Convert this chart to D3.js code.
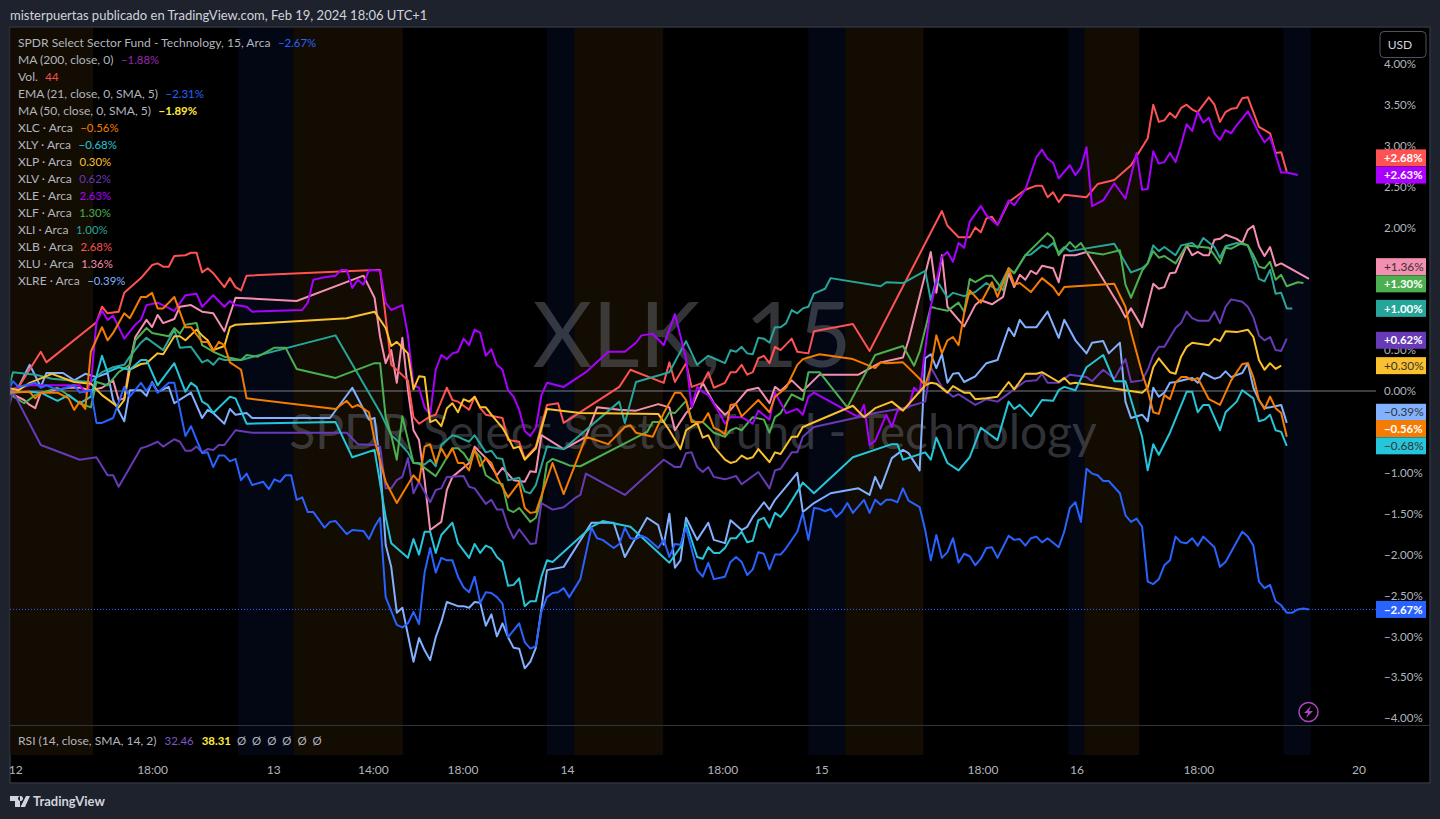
<!DOCTYPE html>
<html><head><meta charset="utf-8">
<style>html,body{margin:0;padding:0;background:#1e222d;overflow:hidden}svg{display:block}text{font-family:Lato,"Noto Sans",sans-serif}</style>
<script src="https://cdn.jsdelivr.net/npm/d3@7"></script></head><body><svg id="c" width="1440" height="819"></svg>
<script>
// [bar index, percent change]
const XLK=[[-1,-.02],[0,.12],[1,.05],[4,.10],[5,.04],[6,.07],[8,.01],[11,.07],[12,-.02],[14,.01],[15,-.39],[16,-.39],[18,-.33],[20,.05],[21,-.07],[23,.10],[24,0],[25,.10],[26,-.02],[28,.10],[29,.10],[31,-.55],[32,-.43],[34,-.76],[35,-.75],[36,-.93],[37,-.79],[38,-.79],[39,-.86],[40,-.83],[41,-1.09],[42,-1.01],[43,-1.15],[45,-1.11],[46,-1.20],[47,-1.08],[48,-1.11],[49,-1.03],[50,-1.03],[51,-1.33],[52,-1.30],[53,-1.48],[54,-1.48],[56,-1.67],[57,-1.60],[58,-1.59],[60,-1.75],[61,-1.70],[63,-1.71],[64,-1.81],[65,-1.66],[66,-1.55],[67,-2.52],[69,-2.86],[70,-2.89],[71,-2.84],[72,-2.70],[73,-2.85],[74,-2.22],[75,-1.92],[76,-2.22],[77,-2.04],[78,-2.07],[79,-2.07],[80,-2.27],[81,-2.40],[82,-2.46],[83,-2.27],[84,-2.59],[85,-2.46],[86,-2.47],[87,-2.52],[88,-2.60],[89,-3.01],[91,-2.84],[92,-3.07],[93,-3.15],[94,-3.12],[95,-2.70],[96,-2.52],[97,-2.47],[98,-2.46],[99,-2.41],[100,-2.52],[102,-2.30],[104,-1.67],[105,-1.80],[106,-1.82],[108,-1.92],[109,-1.87],[110,-1.67],[111,-1.80],[112,-1.81],[113,-1.77],[114,-1.80],[116,-1.92],[117,-1.82],[118,-2.03],[119,-1.87],[120,-1.88],[121,-1.67],[123,-2.19],[124,-2.27],[125,-2.10],[126,-2.30],[128,-2.27],[129,-2.09],[130,-2.03],[131,-2.09],[132,-2.25],[133,-2.18],[134,-1.97],[135,-1.99],[136,-2.18],[137,-2.00],[138,-2.00],[139,-1.92],[141,-1.72],[142,-1.49],[143,-1.82],[144,-1.43],[145,-1.44],[146,-1.47],[147,-1.44],[148,-1.54],[149,-1.48],[150,-1.37],[151,-1.49],[153,-1.33],[154,-1.49],[155,-1.33],[156,-1.39],[157,-1.33],[158,-1.33],[159,-1.36],[160,-1.19],[161,-1.34],[163,-1.42],[164,-1.70],[165,-2.07],[166,-1.76],[167,-2.04],[168,-1.97],[169,-1.80],[170,-2.10],[171,-1.99],[172,-2.02],[173,-2.13],[174,-2.05],[175,-1.92],[176,-1.91],[177,-2.04],[179,-1.77],[180,-1.82],[181,-1.81],[182,-1.89],[183,-1.80],[184,-1.78],[185,-1.85],[186,-1.80],[188,-1.91],[189,-1.72],[190,-1.43],[191,-1.36],[192,-1.60],[193,-.95],[194,-1.01],[195,-1.03],[196,-1.10],[197,-1.10],[199,-1.25],[200,-1.52],[201,-1.60],[202,-1.56],[203,-1.66],[204,-2.33],[205,-2.36],[206,-2.30],[207,-2.13],[208,-2.07],[209,-1.78],[210,-1.85],[211,-1.86],[212,-1.80],[213,-1.89],[214,-1.78],[216,-1.91],[217,-2.15],[218,-2.09],[221,-1.72],[222,-1.78],[223,-1.89],[224,-2.33],[225,-2.41],[226,-2.37],[227,-2.57],[228,-2.62],[229,-2.71],[230,-2.71],[231,-2.67],[232,-2.66],[233,-2.67]];
const XLC=[[-1,-.02],[3,-.01],[4,-.09],[5,-.02],[8,-.02],[10,-.09],[11,-.23],[12,-.13],[13,-.22],[14,.48],[16,.78],[17,.62],[18,.71],[20,.95],[21,.89],[23,1.15],[24,1.15],[25,1.20],[26,1.01],[27,1.01],[29,1.15],[31,.78],[32,.78],[34,.60],[35,.60],[36,.49],[37,.60],[38,.56],[39,.35],[41,.26],[42,-.09],[58,-.22],[60,-.12],[61,-.20],[62,-.17],[64,-.26],[65,-.60],[67,-1.11],[69,-1.37],[72,-1.03],[73,-1.11],[74,-.68],[75,-.65],[76,-.88],[77,-.70],[78,-.82],[79,-.70],[80,-.88],[81,-.88],[82,-.97],[83,-.71],[84,-.92],[85,-.82],[86,-.88],[87,-1.05],[89,-1.30],[91,-1.12],[92,-1.43],[93,-1.49],[94,-1.48],[97,-.88],[99,-1.26],[103,-.56],[107,-.65],[110,-.44],[111,-.42],[112,-.51],[115,-.56],[117,-.27],[119,-.02],[120,-.02],[121,-.11],[122,-.38],[124,-.38],[125,-.27],[126,-.45],[127,-.48],[128,-.53],[129,-.17],[130,-.16],[131,-.31],[134,-.11],[136,-.26],[137,-.07],[139,.04],[141,.32],[142,.39],[145,.45],[151,.39],[155,.28],[156,.35],[157,.34],[160,.35],[163,.15],[164,.07],[165,.29],[166,.68],[167,.46],[168,.62],[169,.66],[170,.56],[171,.95],[172,1.23],[174,1.08],[176,1.33],[177,1.15],[179,1.50],[180,1.30],[181,1.32],[183,1.21],[185,1.38],[187,1.27],[188,1.17],[189,1.27],[198,1.31],[200,1.03],[201,.72],[203,.22],[204,.01],[205,-.26],[206,-.28],[207,-.05],[208,-.10],[209,.10],[210,.17],[211,.17],[212,.13],[213,.16],[215,-.10],[217,-.17],[219,.13],[221,.33],[222,.34],[223,.17],[224,-.11],[225,-.22],[226,-.07],[227,-.21],[228,-.27],[229,-.56]];
const XLY=[[-1,-.02],[3,-.01],[5,-.02],[8,-.12],[10,-.05],[12,-.15],[14,-.07],[16,.43],[17,.23],[19,.29],[21,.26],[23,.38],[24,.38],[26,.07],[29,.34],[31,-.01],[32,.10],[33,.05],[34,-.13],[35,-.17],[36,-.27],[39,-.07],[40,-.09],[42,-.40],[58,-.38],[61,-.81],[65,-.72],[67,-1.54],[68,-1.86],[71,-2.04],[72,-1.81],[73,-2.00],[74,-1.72],[75,-1.72],[76,-1.98],[77,-1.76],[79,-1.61],[80,-1.86],[82,-2.04],[83,-1.87],[84,-1.98],[85,-1.89],[86,-1.92],[87,-2.03],[88,-2.09],[89,-2.38],[90,-2.37],[91,-2.29],[92,-2.63],[93,-2.57],[94,-2.57],[95,-2.27],[96,-2.07],[97,-2.09],[104,-1.66],[106,-1.59],[111,-1.66],[118,-2.10],[120,-1.91],[121,-1.61],[123,-2.03],[124,-2.05],[125,-1.91],[126,-1.98],[127,-1.98],[128,-1.92],[129,-1.80],[130,-1.80],[131,-1.72],[132,-1.85],[133,-1.83],[134,-1.58],[135,-1.55],[136,-1.67],[137,-1.49],[138,-1.54],[139,-1.45],[141,-1.23],[142,-1.12],[144,-1.25],[151,-.81],[158,-.65],[159,-.65],[160,-.84],[164,-.75],[165,-.84],[166,-.57],[168,-.88],[170,-.97],[172,-.81],[174,-.45],[177,-.60],[179,-.13],[180,-.22],[181,-.17],[183,-.31],[185,-.11],[187,-.12],[188,.01],[189,.05],[191,.01],[193,.29],[196,.44],[198,.12],[200,.12],[203,-.56],[204,-.97],[205,-.65],[206,-.78],[208,-.51],[211,-.01],[212,-.01],[213,-.26],[214,-.17],[215,-.17],[217,-.48],[218,-.26],[220,-.13],[221,.01],[223,-.09],[224,-.37],[225,-.35],[226,-.29],[227,-.48],[228,-.50],[229,-.67]];
const XLP=[[-1,.04],[1,.01],[3,.10],[7,.21],[11,.11],[14,.09],[16,-.05],[19,-.20],[20,-.11],[21,.26],[23,.33],[24,.34],[26,.46],[27,.45],[29,.67],[30,.67],[31,.62],[33,.75],[34,.68],[35,.62],[36,.50],[38,.55],[39,.78],[40,.81],[60,.89],[65,.97],[67,.77],[68,.55],[69,.60],[71,.46],[72,.02],[73,.18],[74,.17],[75,-.38],[76,-.35],[77,-.43],[78,-.21],[79,-.15],[80,-.26],[81,-.10],[82,-.13],[83,-.07],[84,-.20],[85,-.20],[86,-.29],[88,-.45],[89,-.57],[90,-.70],[91,-.68],[92,-.84],[94,-.70],[96,-.22],[102,-.27],[116,-.28],[118,-.48],[120,-.71],[121,-.48],[123,-.39],[124,-.57],[125,-.54],[126,-.68],[128,-.84],[129,-.88],[130,-.86],[131,-.79],[132,-.83],[133,-.81],[134,-.71],[136,-.87],[137,-.75],[138,-.77],[140,-.56],[141,-.56],[142,-.44],[151,-.18],[153,-.32],[155,-.21],[158,-.13],[160,-.24],[164,.07],[165,.10],[166,.09],[168,-.02],[169,.06],[171,-.02],[172,-.02],[173,-.10],[175,-.09],[177,-.07],[179,.11],[180,.02],[182,.21],[184,.21],[185,.23],[188,.11],[189,.16],[190,.09],[191,.10],[200,.01],[203,-.02],[204,.04],[205,.29],[206,.40],[208,.23],[209,.21],[210,.42],[211,.54],[212,.59],[215,.56],[216,.64],[217,.61],[218,.73],[220,.72],[222,.75],[223,.66],[224,.38],[225,.26],[226,.34],[227,.27],[228,.31]];
const XLV=[[-1,-.27],[0,-.01],[5,-.66],[12,-.84],[15,-.81],[17,-1.03],[18,-1.03],[19,-1.17],[23,-.70],[24,-.68],[26,-.62],[27,-.68],[29,-.59],[30,-.62],[31,-.73],[32,-.73],[33,-.68],[34,-.75],[35,-.71],[36,-.72],[37,-.66],[38,-.66],[40,-.48],[43,-.51],[60,-.51],[62,-.65],[65,-.66],[66,-.68],[67,-1.19],[68,-1.19],[69,-1.09],[70,-1.05],[71,-.82],[72,-1.25],[73,-1.11],[75,-1.36],[76,-1.21],[77,-1.19],[78,-1.05],[81,-1.04],[82,-1.17],[83,-1.19],[85,-1.38],[86,-1.33],[87,-1.45],[88,-1.45],[89,-1.66],[90,-1.80],[91,-1.69],[93,-1.87],[94,-1.86],[95,-1.37],[97,-1.45],[99,-1.42],[101,-1.31],[102,-1.27],[103,-1.01],[110,-1.27],[117,-.84],[119,-.93],[120,-.93],[121,-.76],[122,-.75],[123,-.93],[124,-.99],[125,-.93],[126,-1.05],[128,-1.08],[130,-1.04],[131,-1.14],[134,-.99],[136,-1.19],[137,-.97],[138,-.95],[140,-.75],[141,-.75],[142,-.56],[144,-.44],[152,-.32],[155,-.27],[160,-.21],[164,-.13],[165,.29],[167,.05],[169,-.07],[170,-.04],[173,-.17],[175,-.10],[177,-.13],[181,.07],[182,.12],[184,.13],[185,.21],[186,.10],[188,.10],[190,.20],[193,.17],[194,.12],[196,.26],[198,.15],[200,.39],[201,.11],[203,.13],[204,.26],[205,.44],[206,.54],[207,.54],[209,.77],[210,.83],[211,.97],[212,.89],[213,.86],[215,.86],[216,.97],[217,.83],[218,1.03],[219,1.12],[221,1.09],[222,1.03],[223,.90],[224,.68],[225,.62],[226,.66],[227,.50],[228,.49],[229,.64]];
const XLE=[[-1,.01],[3,.07],[12,.07],[13,-.02],[14,.10],[15,.84],[16,.98],[17,.87],[18,.92],[20,.64],[22,.81],[23,.87],[24,1.05],[26,1.08],[29,.98],[31,1.17],[33,1.19],[34,1.03],[36,1.17],[38,1.03],[39,1.10],[40,1.05],[42,1.03],[43,.97],[52,.99],[53,1.08],[54,1.36],[56,1.39],[58,1.41],[59,1.48],[60,1.48],[61,1.26],[62,1.36],[63,1.30],[64,1.48],[66,1.47],[67,1.08],[68,.99],[70,1.05],[71,.68],[72,.07],[73,.04],[74,-.20],[75,-.29],[76,.26],[77,.44],[78,.39],[79,.46],[80,.48],[81,.64],[82,.56],[83,.75],[84,.71],[85,.43],[86,.51],[87,.32],[88,.26],[89,.01],[90,-.07],[91,-.23],[92,-.49],[93,-.55],[94,-.45],[95,-.05],[96,.10],[99,.05],[103,.23],[107,.48],[110,.48],[112,.59],[113,.68],[115,.70],[117,.56],[119,.94],[121,.40],[122,-.20],[123,.05],[124,-.01],[125,-.05],[127,-.27],[128,-.40],[129,-.32],[131,-.32],[133,-.40],[134,-.24],[136,-.35],[137,-.02],[139,-.27],[141,-.22],[142,-.29],[143,-.07],[144,-.02],[152,-.32],[153,-.17],[154,-.66],[155,-.61],[157,-.29],[158,-.44],[159,-.24],[161,-.20],[162,.04],[163,-.02],[165,1.03],[167,1.64],[168,1.70],[169,1.58],[170,1.81],[171,1.75],[172,2.07],[174,2.26],[175,2.15],[177,2.03],[179,2.33],[180,2.27],[182,2.46],[184,2.86],[185,2.95],[186,2.84],[187,2.79],[188,2.60],[190,2.76],[191,2.64],[192,2.73],[193,2.98],[194,2.26],[196,2.33],[198,2.54],[200,2.35],[202,2.91],[203,2.46],[204,2.47],[205,2.93],[206,2.78],[207,2.80],[208,2.91],[209,2.80],[210,3.01],[211,3.26],[212,3.18],[213,3.41],[214,3.28],[215,3.34],[216,3.15],[217,3.07],[218,3.19],[219,3.15],[220,3.25],[221,3.33],[222,3.42],[223,3.29],[224,3.15],[225,3.04],[226,3.11],[228,2.67],[229,2.67],[231,2.64]];
const XLF=[[-1,-.02],[2,-.15],[4,-.05],[8,.04],[12,-.15],[14,-.20],[15,.11],[17,.07],[19,.23],[21,.32],[22,.62],[24,.77],[25,.71],[28,.67],[29,.77],[30,.70],[31,.81],[33,.83],[34,.56],[36,.48],[38,.42],[41,.38],[42,.44],[44,.42],[47,.53],[49,.53],[51,.27],[58,.16],[65,.34],[66,.34],[67,-.32],[68,-.54],[69,-.84],[70,-.31],[72,-.88],[73,-.89],[74,-.94],[76,-1.04],[77,-.93],[79,-.70],[80,-.70],[81,-.76],[82,-.86],[83,-.73],[84,-.81],[85,-1.03],[87,-1.12],[88,-1.14],[89,-1.45],[90,-1.48],[91,-1.43],[93,-1.60],[94,-1.55],[95,-1.33],[96,-.88],[97,-.83],[99,-.88],[100,-.91],[102,-.92],[110,-.64],[114,-.50],[115,-.38],[117,-.38],[118,-.26],[119,-.27],[121,-.12],[122,-.35],[123,-.39],[124,-.38],[126,-.51],[128,-.56],[129,-.48],[130,-.45],[131,-.48],[133,-.32],[135,-.35],[136,-.51],[137,-.32],[138,-.27],[140,-.04],[142,-.11],[143,.23],[145,.23],[150,-.20],[155,.44],[160,.55],[162,.31],[163,.48],[165,1.03],[166,1.01],[168,.98],[170,1.08],[171,.97],[172,1.37],[173,1.33],[175,1.41],[176,1.41],[178,1.23],[179,1.50],[180,1.44],[182,1.66],[186,1.93],[187,1.87],[188,1.66],[190,1.82],[191,1.75],[192,1.81],[193,1.70],[196,1.67],[199,1.72],[200,1.30],[201,1.14],[203,1.47],[204,1.56],[205,1.71],[206,1.63],[207,1.65],[209,1.56],[211,1.78],[215,1.75],[216,1.66],[217,1.56],[218,1.75],[219,1.74],[221,1.81],[222,1.78],[223,1.66],[224,1.52],[225,1.50],[226,1.58],[227,1.36],[228,1.42],[229,1.28],[231,1.33],[232,1.32]];
const XLI=[[-1,-.02],[0,.23],[4,.20],[7,.15],[12,.12],[14,.11],[16,.23],[18,.29],[20,.32],[21,.42],[23,.59],[24,.65],[27,.50],[29,.75],[30,.53],[32,.54],[34,.35],[35,.38],[36,.32],[37,.40],[38,.38],[41,.38],[58,.68],[66,-.26],[68,-.54],[69,-.60],[71,-.75],[72,-.88],[73,-.88],[74,-.90],[75,-.84],[76,-.92],[77,-.66],[79,-.54],[80,-.56],[82,-.62],[83,-.54],[85,-.75],[86,-.73],[87,-.82],[88,-.83],[89,-1.09],[91,-1.06],[92,-1.23],[93,-1.25],[94,-1.15],[96,-.68],[99,-.71],[109,-.13],[110,-.39],[112,.11],[118,.23],[121,.61],[123,.32],[125,.43],[126,.40],[128,.34],[129,.50],[130,.48],[131,.54],[132,.46],[133,.45],[134,.65],[135,.64],[136,.59],[137,.78],[138,.78],[139,.83],[140,.99],[141,.95],[142,1.01],[143,1.03],[144,1.19],[146,1.25],[147,1.38],[156,1.28],[157,1.33],[160,1.32],[164,1.47],[165,1.11],[166,1.36],[168,1.14],[169,1.20],[171,1.16],[173,1.21],[175,1.32],[177,1.23],[179,1.50],[180,1.44],[182,1.66],[183,1.67],[185,1.78],[186,1.75],[187,1.81],[188,1.69],[189,1.76],[190,1.71],[198,1.80],[201,1.45],[203,1.50],[204,1.56],[205,1.78],[206,1.71],[207,1.76],[209,1.66],[210,1.78],[212,1.81],[213,1.75],[214,1.87],[216,1.76],[217,1.63],[218,1.77],[220,1.81],[222,1.78],[223,1.60],[224,1.37],[225,1.34],[226,1.48],[227,1.19],[228,1.20],[229,1.01],[230,1.01]];
const XLB=[[-1,0],[1,.05],[5,.48],[6,.35],[15,.84],[16,1.03],[17,.95],[19,.97],[20,1.20],[23,1.38],[25,1.54],[26,1.56],[27,1.52],[28,1.52],[29,1.65],[31,1.66],[32,1.69],[33,1.69],[34,1.45],[35,1.50],[36,1.44],[38,1.27],[39,1.38],[40,1.27],[41,1.23],[42,1.41],[65,1.48],[66,1.48],[67,.90],[68,.32],[71,.13],[72,-.32],[73,-.40],[75,-.31],[76,-.29],[78,.04],[79,-.11],[80,-.13],[82,-.23],[83,-.07],[84,-.21],[85,-.29],[88,-.33],[89,-.60],[91,-.62],[92,-.83],[94,-.68],[96,-.17],[98,-.15],[99,-.39],[109,.05],[111,.26],[117,.10],[118,.35],[119,.11],[121,.34],[122,.05],[124,.10],[125,.23],[126,.04],[128,.10],[129,.23],[130,.23],[131,.32],[132,.20],[133,.23],[134,.40],[135,.43],[136,.34],[137,.54],[138,.50],[140,.64],[141,.48],[143,.46],[144,.73],[151,.82],[154,.49],[167,2.20],[168,2.02],[170,1.88],[172,1.88],[173,2.00],[174,1.94],[175,2.11],[176,2.13],[177,2.03],[179,2.31],[182,2.46],[184,2.51],[185,2.51],[186,2.37],[187,2.43],[188,2.31],[189,2.40],[193,2.37],[195,2.53],[198,2.58],[201,2.76],[204,3.09],[205,3.50],[206,3.29],[207,3.31],[208,3.40],[209,3.34],[210,3.46],[211,3.50],[212,3.44],[213,3.41],[215,3.59],[216,3.50],[217,3.29],[218,3.41],[219,3.45],[220,3.46],[221,3.58],[222,3.59],[224,3.23],[226,3.15],[227,2.91],[228,2.92],[229,2.68]];
const XLU=[[-1,-.01],[2,-.11],[3,-.17],[4,-.21],[5,-.02],[10,.04],[12,.04],[14,.01],[16,.04],[18,.13],[19,-.11],[20,-.09],[21,.34],[22,.66],[24,.87],[25,.78],[26,.93],[27,.83],[29,.88],[30,1.03],[32,1.05],[34,.97],[36,.95],[38,.73],[40,1.14],[51,1.10],[63,1.41],[65,1.14],[66,.66],[67,.34],[68,.50],[69,.10],[70,.65],[71,.01],[72,-.48],[73,-.60],[74,-1.09],[75,-1.70],[77,-1.60],[78,-1.21],[79,-1.05],[82,-.88],[83,-.68],[85,-.82],[87,-1.03],[88,-.94],[90,-1.09],[92,-1.11],[93,-.98],[94,-.99],[95,-.54],[99,-.71],[103,-.56],[105,-.20],[109,-.23],[112,-.24],[116,-.16],[118,-.20],[119,-.48],[121,-.27],[122,-.20],[124,.10],[126,-.15],[128,-.29],[129,-.23],[132,.01],[134,.04],[136,-.15],[137,.05],[138,0],[140,.13],[142,0],[145,.20],[152,.20],[156,.35],[160,.41],[161,.62],[165,1.70],[166,1.20],[167,1.66],[168,1.03],[171,.79],[173,1.05],[174,1.11],[176,1.06],[178,1.15],[179,1.44],[180,1.27],[181,1.42],[182,1.36],[183,1.47],[184,1.43],[185,1.53],[187,1.50],[188,1.33],[189,1.66],[191,1.66],[193,1.70],[199,1.03],[200,.90],[201,1.01],[203,.78],[205,1.31],[206,1.25],[207,1.27],[208,1.44],[209,1.45],[211,1.78],[212,1.66],[213,1.70],[214,1.66],[215,1.66],[216,1.85],[217,1.86],[218,1.91],[220,1.86],[221,1.81],[222,1.97],[223,2.02],[224,1.77],[225,1.65],[226,1.76],[227,1.53],[228,1.56],[233,1.37]];
const XLRE=[[-1,-.02],[1,.05],[3,.32],[5,.05],[6,.22],[9,.22],[11,.13],[13,.21],[15,.17],[17,.22],[18,-.11],[20,-.37],[21,.01],[23,.01],[24,-.06],[25,.11],[26,-.01],[28,.05],[29,-.15],[32,-.02],[34,-.33],[35,-.23],[36,-.27],[38,-.40],[39,-.22],[40,-.29],[42,-.27],[43,-.33],[57,-.33],[61,.04],[64,-.35],[65,-.33],[66,-.88],[67,-1.88],[68,-2.15],[69,-2.71],[70,-2.65],[72,-3.31],[73,-3.02],[74,-3.17],[75,-3.29],[76,-3.01],[77,-2.82],[78,-2.58],[80,-2.63],[81,-2.63],[82,-2.65],[83,-2.58],[84,-2.59],[85,-2.87],[86,-2.73],[87,-3.00],[88,-2.84],[89,-3.01],[90,-3.14],[91,-3.15],[92,-3.39],[93,-3.31],[94,-3.14],[96,-2.19],[99,-2.15],[104,-1.61],[108,-1.61],[110,-2.03],[114,-1.55],[116,-1.64],[117,-1.88],[118,-1.50],[119,-2.16],[120,-2.07],[121,-1.55],[123,-1.82],[125,-1.61],[126,-1.82],[128,-1.86],[129,-1.58],[131,-1.70],[132,-1.66],[133,-1.54],[135,-1.36],[136,-1.45],[137,-1.33],[139,-1.17],[141,-1.00],[142,-1.48],[144,-1.37],[147,-1.25],[152,-1.19],[154,-1.27],[155,-1.05],[156,-1.19],[158,-.82],[160,-.72],[161,-.76],[163,-.97],[164,.40],[165,.45],[166,.28],[167,.45],[168,.10],[169,.21],[170,.22],[171,.11],[173,.18],[175,.34],[177,.38],[179,.77],[180,.67],[181,.87],[182,.78],[184,.78],[186,.97],[188,.65],[189,.87],[191,.62],[193,.46],[194,.59],[196,.61],[197,.46],[199,.59],[200,-.13],[201,-.33],[203,-.29],[204,-.37],[205,.04],[206,-.07],[207,-.02],[208,.10],[209,.11],[212,.16],[213,.10],[214,.22],[216,.15],[217,.17],[218,.24],[219,.17],[221,.22],[222,.34],[223,.04],[224,-.11],[225,-.21],[226,-.20],[228,-.17],[229,-.39]];

const topTitle="misterpuertas publicado en TradingView.com, Feb 19, 2024 18:06 UTC+1";
const wmBig="XLK, 15";
const wmSmall="SPDR Select Sector Fund - Technology";
const legendNames=["SPDR Select Sector Fund - Technology, 15, Arca","MA (200, close, 0)","Vol.","EMA (21, close, 0, SMA, 5)","MA (50, close, 0, SMA, 5)","XLC · Arca","XLY · Arca","XLP · Arca","XLV · Arca","XLE · Arca","XLF · Arca","XLI · Arca","XLB · Arca","XLU · Arca","XLRE · Arca"];
const legendValues=["−2.67%","−1.88%","44","−2.31%","−1.89%","−0.56%","−0.68%","0.30%","0.62%","2.63%","1.30%","1.00%","2.68%","1.36%","−0.39%"];
const legendColors=["#2962ff","#9c27b0","#ef5350","#2962ff","#ffeb3b","#f57c00","#26c6da","#fbc02d","#673ab7","#aa00ff","#4caf50","#26a69a","#ff5252","#f48fb1","#82b1ff"];
// sessions: [start bar, end bar, kind]
const sessionBands=[[-0.5,14.4,"pre"],[40.5,50.4,"post"],[50.4,70.1,"pre"],[96,100.9,"post"],[100.9,116.9,"pre"],[143,149.6,"post"],[149.6,163.7,"pre"],[189.7,192.6,"post"],[192.6,202.5,"pre"],[228.4,233.3,"post"]];
const timeTickBars=[0.4,25,46.8,64.7,80.8,99.6,127.5,145.3,174.3,191.2,213.1,241.9];
const timeTickLabels=["12","18:00","13","14:00","18:00","14","18:00","15","18:00","16","18:00","20"];
const priceTicks=[4,3.5,3,2.5,2,.5,0,-1,-1.5,-2,-2.5,-3,-3.5,-4];
// last-value tags: [text, anchor value, fill, text colour]
const tagText=["+2.68%","+2.63%","+1.36%","+1.30%","+1.00%","+0.62%","+0.30%","−0.39%","−0.56%","−0.68%","−2.67%"];
const tagAnchor=[2.85,2.64,1.52,1.31,1.01,.62,.31,-.26,-.46,-.67,-2.67];
const tagFill=["#ff5252","#aa00ff","#f48fb1","#4caf50","#26a69a","#673ab7","#fbc02d","#82b1ff","#f57c00","#26c6da","#2962ff"];
const tagInk=["#fff","#fff","#333","#fff","#fff","#fff","#333","#333","#fff","#333","#fff"];
const drawOrder=[[XLRE,"#82b1ff"],[XLU,"#f48fb1"],[XLB,"#ff5252"],[XLI,"#26a69a"],[XLF,"#4caf50"],[XLE,"#aa00ff"],[XLV,"#673ab7"],[XLP,"#fbc02d"],[XLY,"#26c6da"],[XLC,"#f57c00"],[XLK,"#2962ff"]];
const rsiLabel="RSI (14, close, SMA, 14, 2)",rsiValues=["32.46","38.31"],rsiColors=["#7e57c2","#ffeb3b"],rsiBlanks=["Ø","Ø","Ø","Ø","Ø","Ø"];

const svg=d3.select("#c");
const x=d3.scaleLinear().domain([0,233]).range([13,1309]);
const y=d3.scaleLinear().domain([4,-4]).range([63.8,718.2]);
svg.append("rect").attr("width",1440).attr("height",819).attr("fill","#1e222d");
svg.append("text").attr("x",10).attr("y",19.5).attr("font-size",13).attr("fill","#d1d4dc").text(topTitle);
svg.append("rect").attr("x",10).attr("y",27).attr("width",1420).attr("height",756).attr("fill","#000").attr("stroke","#2e333f").attr("stroke-width",1.5);
const defs=svg.append("defs");
defs.append("clipPath").attr("id","pl").append("rect").attr("x",10.5).attr("y",28).attr("width",1365).attr("height",697);
svg.selectAll("rect.band").data(sessionBands).enter().append("rect").attr("class","band")
 .attr("x",d=>x(d[0])).attr("width",d=>x(d[1])-x(d[0])).attr("y",28).attr("height",727)
 .attr("fill",d=>d[2]==="pre"?"#120c03":"#030714");
// watermark
svg.append("text").attr("x",692).attr("y",367).attr("text-anchor","middle").attr("font-size",92).attr("fill","#787b86").attr("fill-opacity",.42).text(wmBig);
svg.append("text").attr("x",693).attr("y",449).attr("text-anchor","middle").attr("font-size",48).attr("fill","#787b86").attr("fill-opacity",.42).text(wmSmall);
// pane divider
svg.append("line").attr("x1",10).attr("x2",1430).attr("y1",725.5).attr("y2",725.5).attr("stroke","#2e333f");
// reference lines
svg.append("line").attr("x1",10).attr("x2",1376).attr("y1",y(0)).attr("y2",y(0)).attr("stroke","#787b86").attr("stroke-width",1);
svg.append("line").attr("x1",10).attr("x2",1376).attr("y1",y(-2.67)).attr("y2",y(-2.67)).attr("stroke","#2962ff").attr("stroke-width",1).attr("stroke-dasharray","1 2");
// series
const line=d3.line().x(d=>x(d[0])).y(d=>y(d[1]));
const gS=svg.append("g").attr("clip-path","url(#pl)");
drawOrder.forEach(([data,col])=>gS.append("path").attr("d",line(data)).attr("fill","none").attr("stroke",col).attr("stroke-width",2).attr("stroke-linejoin","round"));
// price axis
const yAxis=d3.axisRight(y).tickValues(priceTicks).tickSize(0).tickFormat(d=>(d<0?"−":"")+Math.abs(d).toFixed(2)+"%");
const gy=svg.append("g").attr("transform","translate(1384,0)").call(yAxis);
gy.select(".domain").remove();
gy.selectAll("text").attr("x",0).attr("font-size",11.5).attr("fill","#b2b5be").style("font-family","Lato");
// tags
const gT=svg.append("g");
tagText.forEach((t,i)=>{
 const cy=y(tagAnchor[i]);
 gT.append("rect").attr("x",1376).attr("y",cy-8.5).attr("width",50).attr("height",17).attr("fill",tagFill[i]);
 gT.append("text").attr("x",1384).attr("y",cy+4.2).attr("font-size",tagInk[i]==="#fff"?11.4:11.8).attr("font-weight",tagInk[i]==="#fff"?700:400).attr("fill",tagInk[i]).text(t);
});
// time axis
const xAxis=d3.axisBottom(x).tickValues(timeTickBars).tickSize(0).tickFormat((d,i)=>timeTickLabels[i]);
const gx=svg.append("g").attr("transform","translate(0,765)").call(xAxis);
gx.select(".domain").remove();
gx.selectAll("text").attr("y",0).attr("dy","0.71em").attr("font-size",12).attr("fill","#b2b5be").style("font-family","Lato");
// legend
const gL=svg.append("g");
legendNames.forEach((n,i)=>{
 const t=gL.append("text").attr("x",18).attr("y",46.5+17*i).attr("font-size",12.1).attr("fill","#b2b5be");
 t.append("tspan").text(n);
 t.append("tspan").attr("dx",7.5).attr("font-size",11.4).attr("fill",legendColors[i]).attr("font-weight",i===4?700:400).text(legendValues[i]);
});
const r=gL.append("text").attr("x",18).attr("y",745).attr("font-size",12.1).attr("fill","#b2b5be");
r.append("tspan").text(rsiLabel);
rsiValues.forEach((v,i)=>r.append("tspan").attr("dx",8).attr("font-size",11.4).attr("fill",rsiColors[i]).attr("font-weight",i?700:400).text(v));
rsiBlanks.forEach(v=>r.append("tspan").attr("dx",6).attr("font-size",11.4).text(v));
// USD button
svg.append("rect").attr("x",1380).attr("y",31.5).attr("width",46).attr("height",26).attr("rx",4).attr("fill","#000").attr("stroke","#50535e");
svg.append("text").attr("x",1400).attr("y",49).attr("text-anchor","middle").attr("font-size",12).attr("fill","#d1d4dc").text("USD");
// bolt badge
svg.append("circle").attr("cx",1308.5).attr("cy",712).attr("r",9.5).attr("fill","#000").attr("stroke","#ab47bc").attr("stroke-width",1.5);
svg.append("path").attr("d","M1311 706 L1304 713 H1308 L1306 718 L1313 711 H1309 Z").attr("fill","#ab47bc");
// logo
svg.append("path").attr("d","M10 796 H20 V807 H15 V801 H10 Z M20.5 796 a2.5 2.5 0 1 0 .01 0 Z M26 796 H30 L25 807 H20.5 Z").attr("fill","#d1d4dc");
svg.append("text").attr("x",33).attr("y",806).attr("font-size",13).attr("font-weight",700).attr("fill","#d1d4dc").text("TradingView");
</script></body></html>
